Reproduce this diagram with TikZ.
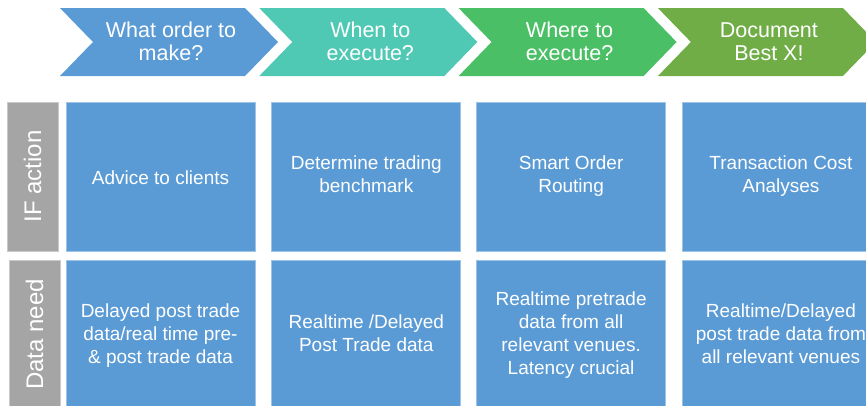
\documentclass[tikz,border=0pt]{standalone}
\usepackage{fontspec}
\setmainfont{Liberation Sans}
\usetikzlibrary{positioning}
\definecolor{cellblue}{HTML}{5B9BD5}
\definecolor{edgeblue}{HTML}{9DC3E6}
\definecolor{labelgrey}{HTML}{A5A5A5}
\definecolor{edgegrey}{HTML}{C9C9C9}
\definecolor{stepteal}{HTML}{4FC9B4}
\definecolor{stepgreen}{HTML}{4ABF65}
\definecolor{stepolive}{HTML}{70AD47}
% line struts: tall top, shallow bottom
\newcommand{\topstrut}{\rule{0pt}{19pt}}
\newcommand{\botstrut}{\rule[-4pt]{0pt}{4pt}}

\begin{document}
\begin{tikzpicture}[
    x=1pt, y=-1pt,
    node distance=9pt and 16pt,
    cell/.style={rectangle, draw=edgeblue, line width=0.8pt, fill=cellblue,
                 minimum width=189pt, minimum height=149pt, inner sep=2pt,
                 align=center, text=white, font=\fontsize{19}{23}\selectfont,
                 execute at begin node=\topstrut, execute at end node=\botstrut},
    rowlabel/.style={rectangle, draw=edgegrey, line width=0.8pt, fill=labelgrey,
                     minimum width=149pt, minimum height=51pt, rotate=90,
                     text=white, font=\fontsize{24}{28}\selectfont},
    headtext/.style={align=center, text=white, font=\fontsize{21.5}{23}\selectfont,
                     execute at begin node=\topstrut, execute at end node=\botstrut}
  ]
    \useasboundingbox (0,0) rectangle (866,405);

    % process steps
    \foreach \i/\col/\txt in {0/cellblue/{What order to\\make?},
                              1/stepteal/{When to\\execute?},
                              2/stepgreen/{Where to\\execute?},
                              3/stepolive/{Document\\Best X!}} {
      \pgfmathsetmacro{\xo}{60+199.3*\i}
      \fill[\col] (\xo,8) -- ++(185,0) -- ++(33,34) -- ++(-33,34)
                  -- (\xo,76) -- ++(33,-34) -- cycle;
      \node[headtext] (head\i) at (\xo+111,43.5) {\txt};
    }

    % IF action row
    \node[cell] (act1) at (160.5,176.5) {Advice to clients};
    \node[cell, right=of act1] (act2) {Determine trading\\benchmark};
    \node[cell, right=15pt of act2] (act3) {Smart Order\\Routing};
    \node[cell, right=of act3, minimum width=197pt] (act4) {Transaction Cost\\Analyses};

    % Data need row
    \node[cell, below=of act1] (data1) {Delayed post trade\\data/real time pre-\\\& post trade data};
    \node[cell, below=of act2] (data2) {Realtime /Delayed\\Post Trade data};
    \node[cell, below=of act3] (data3) {Realtime pretrade\\data from all\\relevant venues.\\Latency crucial};
    \node[cell, below=of act4, minimum width=197pt] (data4) {Realtime/Delayed\\post trade data from\\all relevant venues};

    \node[rowlabel] (lblact) at (32.5,176.5) {IF action};
    \node[rowlabel] (lbldata) at (34.5,334.5) {Data need};
  \end{tikzpicture}
\end{document}
